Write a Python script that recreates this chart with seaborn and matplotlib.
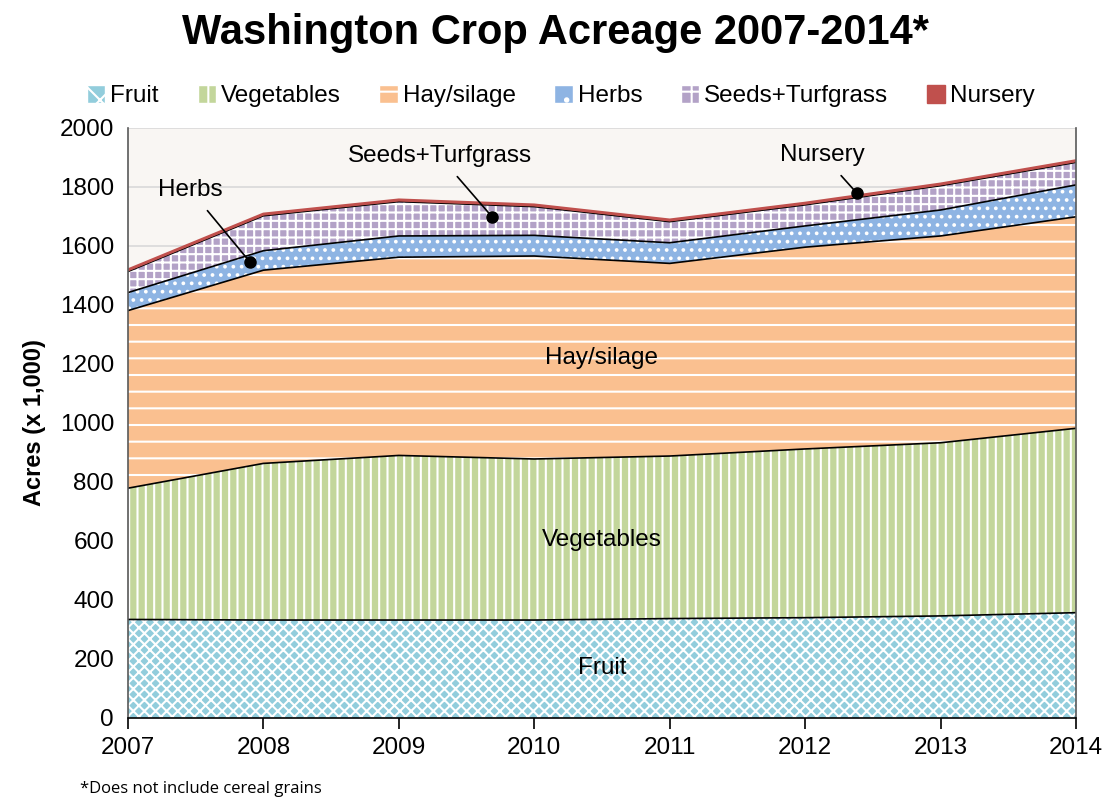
import matplotlib
matplotlib.use("Agg")
import numpy as np
import pandas as pd
import seaborn as sns
import matplotlib.pyplot as plt
from matplotlib.patches import Patch

# acreage in thousands of acres
years = [2007, 2008, 2009, 2010, 2011, 2012, 2013, 2014]
fruit = [334, 332, 332, 332, 337, 340, 346, 357]
vegetables = [445, 531, 558, 546, 551, 572, 587, 625]
hay_silage = [602, 655, 672, 688, 653, 684, 701, 717]
herbs = [61, 66, 72, 70, 70, 72, 88, 108]
seeds_turf = [71, 118, 116, 97, 71, 71, 82, 76]
nursery = [6, 6, 6, 6, 6, 6, 6, 6]

crops = ["Fruit", "Vegetables", "Hay/silage", "Herbs", "Seeds+Turfgrass", "Nursery"]
colors = ["#92CDDC", "#C3D69B", "#FAC090", "#8EB4E3", "#B3A2C7", "#C0504D"]
hatches = ["xxx", "||", "-", "..", "++", ""]

sns.set_theme(style="white")
plt.rcParams["font.family"] = ["Liberation Sans", "DejaVu Sans"]
plt.rcParams["hatch.linewidth"] = 1.5
for k in ["text.color", "axes.labelcolor", "xtick.color", "ytick.color"]:
    plt.rcParams[k] = "black"

df = pd.DataFrame({"year": years, "Fruit": fruit, "Vegetables": vegetables,
                   "Hay/silage": hay_silage, "Herbs": herbs,
                   "Seeds+Turfgrass": seeds_turf, "Nursery": nursery})

fig = plt.figure(figsize=(11.11, 8.08), dpi=100)
ax = fig.add_axes([0.1152, 0.1114, 0.8533, 0.7302])
ax.set_facecolor("#F9F6F3")

stack = ax.stackplot(df["year"], [df[c] for c in crops], colors=colors, linewidth=0)
for poly, h, c in zip(stack, hatches, colors):
    poly.set_hatch(h)
    poly.set_edgecolor("white" if h else c)
    poly.set_linewidth(0)

# boundary lines between layers
cum = df[crops].cumsum(axis=1)
long = cum.assign(year=df["year"]).melt(id_vars="year", var_name="crop", value_name="top")
sns.lineplot(data=long[long.crop.isin(crops[:4])], x="year", y="top", units="crop",
             estimator=None, color="black", linewidth=1.2, ax=ax, legend=False)
sns.lineplot(data=long[long.crop == "Seeds+Turfgrass"], x="year", y="top",
             color="black", linewidth=1.0, ax=ax, legend=False)
sns.lineplot(data=long[long.crop == "Nursery"], x="year", y="top",
             color="#C0504D", linewidth=2.2, ax=ax, legend=False)

ax.set_xlim(2007, 2014)
ax.set_ylim(0, 2000)
ax.set_yticks(range(0, 2001, 200))
ax.set_xticks(years)
ax.grid(axis="y", color="#D9D9D9", linewidth=1.2)
ax.set_axisbelow(True)
for s in ["left", "bottom", "right"]:
    ax.spines[s].set_color("#595959")
    ax.spines[s].set_linewidth(1.2)
ax.spines["bottom"].set_color("black")
ax.spines["top"].set_visible(False)
ax.tick_params(axis="x", direction="out", length=8, width=1.2, color="black",
               labelsize=17.5, pad=6, bottom=True)
ax.tick_params(axis="y", length=0, labelsize=17.5, pad=10)
ax.set_xlabel("")
ax.set_ylabel("Acres (x 1,000)", fontsize=17, fontweight="bold", labelpad=10)

# labels inside the areas
for txt, y in [("Hay/silage", 1220), ("Vegetables", 603), ("Fruit", 169)]:
    ax.text(2010.5, y, txt, fontsize=17.5, ha="center", va="center")

callouts = [("Herbs", (2007.90, 1546), (2007.46, 1790)),
            ("Seeds+Turfgrass", (2009.69, 1698), (2009.30, 1905)),
            ("Nursery", (2012.38, 1780), (2012.13, 1908))]
for txt, pt, tp in callouts:
    ax.annotate(txt, xy=pt, xytext=tp, fontsize=17.5, ha="center", va="center",
                arrowprops=dict(arrowstyle="-", color="black", lw=1.2,
                                shrinkA=6, shrinkB=0))
    ax.plot(*pt, "o", color="black", markersize=8, zorder=5)

handles = [Patch(facecolor=c, edgecolor="white" if h else c, hatch=h[:1] if h else "", label=n)
           for n, c, h in zip(crops, colors, hatches)]
fig.legend(handles=handles, loc="center", bbox_to_anchor=(0.505, 0.881), ncol=6,
           frameon=False, fontsize=17.5, handlelength=0.75, handleheight=0.75,
           handletextpad=0.2, columnspacing=1.6)

fig.text(0.5, 0.959, "Washington Crop Acreage 2007-2014*", ha="center", va="center",
         fontsize=30, fontweight="bold")
fig.text(0.072, 0.014, "*Does not include cereal grains", fontsize=12,
         family=["Open Sans", "DejaVu Sans"], ha="left", va="bottom")

fig.savefig("out.png", dpi=100)
